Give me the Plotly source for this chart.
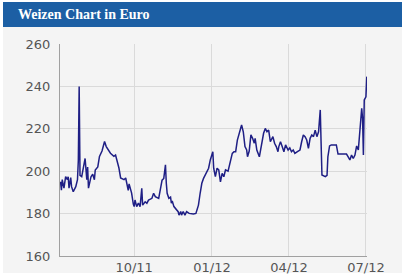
import plotly.graph_objects as go

title_text = "Weizen Chart in Euro"

dates = [
    "2011-07-06", "2011-07-07", "2011-07-08", "2011-07-10", "2011-07-12", "2011-07-14",
    "2011-07-15", "2011-07-16", "2011-07-18", "2011-07-19", "2011-07-21", "2011-07-24",
    "2011-07-26", "2011-07-27", "2011-07-28", "2011-07-29", "2011-07-31", "2011-08-04",
    "2011-08-06", "2011-08-07", "2011-08-08", "2011-08-11", "2011-08-13", "2011-08-15",
    "2011-08-16", "2011-08-19", "2011-08-21", "2011-08-24", "2011-08-27", "2011-08-29",
    "2011-09-03", "2011-09-07", "2011-09-09", "2011-09-13", "2011-09-15", "2011-09-19",
    "2011-09-21", "2011-09-24", "2011-09-25", "2011-09-28", "2011-09-30", "2011-10-01",
    "2011-10-02", "2011-10-04", "2011-10-06", "2011-10-08", "2011-10-10", "2011-10-11",
    "2011-10-14", "2011-10-16", "2011-10-18", "2011-10-22", "2011-10-24", "2011-10-26",
    "2011-10-30", "2011-11-01", "2011-11-03", "2011-11-05", "2011-11-07", "2011-11-08",
    "2011-11-09", "2011-11-11", "2011-11-13", "2011-11-14", "2011-11-15", "2011-11-17",
    "2011-11-20", "2011-11-22", "2011-11-23", "2011-11-25", "2011-11-26", "2011-11-28",
    "2011-11-30", "2011-12-02", "2011-12-05", "2011-12-10", "2011-12-13", "2011-12-16",
    "2011-12-18", "2011-12-20", "2011-12-22", "2011-12-24", "2011-12-26", "2011-12-28",
    "2011-12-30", "2012-01-01", "2012-01-02", "2012-01-03", "2012-01-05", "2012-01-07",
    "2012-01-09", "2012-01-11", "2012-01-13", "2012-01-15", "2012-01-17", "2012-01-20",
    "2012-01-23", "2012-01-25", "2012-01-27", "2012-01-29", "2012-01-31", "2012-02-02",
    "2012-02-05", "2012-02-07", "2012-02-09", "2012-02-11", "2012-02-12", "2012-02-14",
    "2012-02-16", "2012-02-18", "2012-02-20", "2012-02-21", "2012-02-23", "2012-02-26",
    "2012-02-29", "2012-03-02", "2012-03-04", "2012-03-06", "2012-03-08", "2012-03-10",
    "2012-03-13", "2012-03-15", "2012-03-17", "2012-03-19", "2012-03-20", "2012-03-22",
    "2012-03-24", "2012-03-26", "2012-03-28", "2012-03-31", "2012-04-02", "2012-04-04",
    "2012-04-06", "2012-04-08", "2012-04-11", "2012-04-14", "2012-04-16", "2012-04-18",
    "2012-04-20", "2012-04-22", "2012-04-24", "2012-04-26", "2012-04-28", "2012-04-30",
    "2012-05-02", "2012-05-04", "2012-05-06", "2012-05-08", "2012-05-09", "2012-05-10",
    "2012-05-14", "2012-05-16", "2012-05-17", "2012-05-19", "2012-05-21", "2012-05-25",
    "2012-05-27", "2012-05-29", "2012-06-02", "2012-06-06", "2012-06-08", "2012-06-10",
    "2012-06-12", "2012-06-14", "2012-06-16", "2012-06-18", "2012-06-20", "2012-06-22",
    "2012-06-24", "2012-06-26", "2012-06-27", "2012-06-28", "2012-06-29", "2012-07-01",
    "2012-07-02",
]

prices = [
    195, 191, 196, 192, 197.4, 196,
    197.4, 192, 197, 192.7, 190.3, 192.7,
    196, 205, 240, 198, 197.4, 206,
    196, 202, 192, 197.4, 198.6, 196,
    200.6, 202, 207, 209.5, 214, 211.6,
    208.5, 207, 207.6, 201.5, 196.8, 196,
    196.8, 191, 194, 189.7, 184.5, 183.3,
    186.4, 183.3, 185, 183.3, 191.9, 184,
    185.6, 184.9, 186.4, 187.2, 189.6, 188,
    187.2, 191.9, 195.8, 196.6, 203, 194.3,
    189.6, 187.2, 187.8, 184.9, 186, 183.3,
    181.7, 180.9, 179.3, 181, 179.3, 181,
    179.3, 180.9, 180.1, 179.8, 180.1, 184,
    189.6, 194.3, 196.6, 198.2, 199.8, 201.4,
    205.3, 207.6, 209.2, 201.4, 197.4, 201.4,
    200.6, 195, 199, 197.4, 200.6, 200,
    205.3, 208.4, 209.2, 209.2, 214.7, 217.1,
    221.8, 218.6, 211.6, 210, 206.8, 209.5,
    217.1, 215.5, 213.2, 215.5, 210, 206.8,
    214.7, 217.9, 220.2, 218.6, 219.4, 213.9,
    216.3, 213.2, 211.6, 209.2, 211.6, 213.9,
    211.6, 209.2, 212.4, 210, 211, 209.2,
    210, 208.4, 209.2, 210, 213.9, 217.1,
    216.3, 214.7, 210.8, 215.5, 217.1, 216.3,
    219.4, 216.3, 218.6, 228.9, 213.2, 198.2,
    197.4, 198, 206.8, 211.9, 212.4, 212.4,
    212.4, 208.1, 208.1, 208.1, 208.1, 206.8,
    205.3, 207.6, 206, 207.6, 211.9, 210,
    221.8, 229.7, 225, 207.6, 233.6, 235.1,
    244.6,
]

x_tick_vals = ["2011-10-01", "2012-01-01", "2012-04-01", "2012-07-01"]
x_tick_text = ["10/11", "01/12", "04/12", "07/12"]
y_tick_vals = [160, 180, 200, 220, 240, 260]

W, H = 404, 275
ML, MR, MT, MB = 60, 37, 44, 19
pw = W - ML - MR
ph = H - MT - MB


def px(x):
    return (x - ML) / pw


def py(y):
    return (H - MB - y) / ph


fig = go.Figure()
fig.add_trace(go.Scatter(
    x=dates, y=prices, mode="lines",
    line=dict(color="#1f1f85", width=1.5),
    hoverinfo="skip", showlegend=False,
))

tick_font = dict(family="DejaVu Sans", size=13, color="#555555")

fig.update_layout(
    width=W, height=H,
    margin=dict(l=ML, r=MR, t=MT, b=MB, autoexpand=False),
    paper_bgcolor="#ffffff",
    plot_bgcolor="#f4f4f4",
    showlegend=False,
    xaxis=dict(
        type="date",
        range=["2011-07-05 08:00", "2012-07-02 06:00"],
        tickvals=x_tick_vals, ticktext=x_tick_text,
        showgrid=True, gridcolor="#dadada", gridwidth=1,
        showline=True, linecolor="#a0a0a0", linewidth=1,
        ticks="", tickfont=tick_font, zeroline=False,
        automargin=False, ticklabelstandoff=-1,
    ),
    yaxis=dict(
        range=[160, 260],
        tickvals=y_tick_vals,
        showgrid=True, gridcolor="#dadada", gridwidth=1,
        showline=True, linecolor="#a0a0a0", linewidth=1,
        ticks="", tickfont=tick_font, zeroline=False,
        ticklabelstandoff=6, automargin=False,
    ),
    shapes=[
        dict(type="rect", xref="paper", yref="paper", layer="below",
             x0=px(3), x1=px(402), y0=py(273), y1=py(27),
             fillcolor="#f4f4f4", line=dict(width=0)),
        dict(type="rect", xref="paper", yref="paper", layer="above",
             x0=px(3), x1=px(402), y0=py(27), y1=py(2),
             fillcolor="#1c5fa4", line=dict(width=0)),
    ],
    annotations=[
        dict(text="<b>" + title_text + "</b>", xref="paper", yref="paper",
             x=px(16), y=py(15), xanchor="left", yanchor="middle",
             showarrow=False,
             font=dict(family="'Liberation Serif', 'Times New Roman', serif",
                       size=14, color="#ffffff")),
    ],
)

fig.write_html("out.html")
